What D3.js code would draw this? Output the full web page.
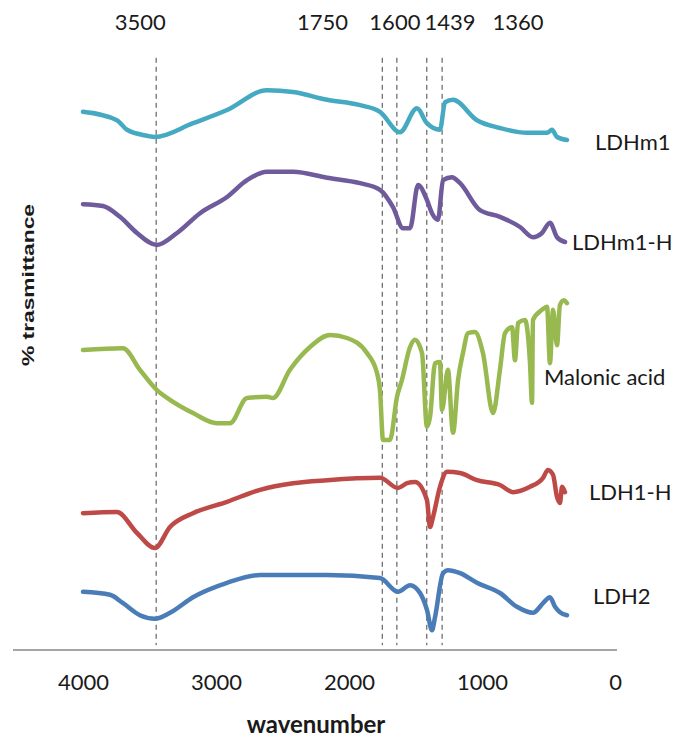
<!DOCTYPE html>
<html>
<head>
<meta charset="utf-8">
<script src="https://cdn.jsdelivr.net/npm/d3@7"></script>
<style>
  html, body { margin: 0; padding: 0; background: #fff; }
  #svg-container { width: 694px; height: 749px; }
  .lbl { font-family: Lato, "Open Sans", sans-serif; fill: #1a1a1a; }
</style>
</head>
<body>
<div id="svg-container"></div>
<script>
////////////////////////////  Data  ////////////////////////////////
// [wavenumber, % transmittance (offset per curve)]
const ldhm1 = [
  [4000, 89.7], [3745, 88.3], [3669, 86.7], [3519, 85.7], [3459, 85.5], [3173, 87.8],
  [2917, 90.0], [2617, 93.3], [2421, 93.0], [2165, 91.7], [1917, 90.8], [1767, 89.7],
  [1617, 86.3], [1489, 90.3], [1414, 87.8], [1316, 86.7], [1278, 91.3], [1218, 91.7],
  [1038, 88.3], [865, 87.0], [662, 86.2], [511, 86.2], [474, 86.7], [436, 85.5], [361, 85.0]
];
const ldhm1H = [
  [4000, 74.3], [3850, 74.0], [3722, 72.2], [3594, 69.5], [3444, 67.5], [3293, 69.5],
  [3120, 72.8], [2917, 75.5], [2767, 78.3], [2617, 79.7], [2421, 79.7], [2165, 78.7],
  [1917, 77.8], [1767, 76.7], [1669, 73.8], [1594, 70.3], [1541, 70.3], [1481, 77.5],
  [1414, 75.0], [1376, 72.8], [1331, 71.7], [1293, 78.3], [1226, 78.8], [1165, 77.8],
  [1015, 73.3], [865, 72.2], [714, 70.5], [617, 68.8], [549, 69.5], [489, 71.2],
  [436, 68.8], [376, 68.0]
];
const malonic = [
  [4000, 50.0], [3699, 50.3], [3572, 46.7], [3444, 43.3], [3346, 41.7], [3173, 39.5],
  [2993, 37.8], [2895, 37.8], [2767, 42.0], [2617, 42.2], [2572, 42.0], [2444, 46.7],
  [2293, 50.5], [2143, 52.5], [2015, 52.0], [1865, 49.5], [1790, 46.2], [1767, 43.3],
  [1744, 35.0], [1692, 35.0], [1639, 42.2], [1602, 45.0], [1541, 50.5], [1504, 51.7],
  [1451, 49.5], [1414, 37.2], [1391, 38.8], [1353, 47.8], [1316, 48.0], [1301, 40.0],
  [1256, 46.7], [1218, 36.2], [1180, 45.0], [1143, 49.5], [1105, 52.8], [1053, 53.0],
  [993, 49.5], [917, 39.5], [865, 46.7], [827, 52.8], [774, 53.8], [752, 48.3],
  [729, 54.5], [677, 55.0], [639, 47.8], [624, 41.2], [617, 55.0], [549, 56.7],
  [511, 57.2], [489, 47.8], [466, 56.7], [436, 50.8], [414, 57.5], [384, 58.3], [361, 57.8]
];
const ldh1H = [
  [4000, 22.8], [3745, 23.0], [3594, 19.5], [3459, 17.0], [3346, 20.5], [3173, 22.8],
  [2917, 24.7], [2669, 26.7], [2421, 27.8], [2165, 28.3], [1767, 28.7], [1632, 27.0],
  [1564, 27.8], [1504, 28.0], [1414, 25.0], [1391, 20.5], [1368, 22.2], [1316, 27.2],
  [1263, 29.7], [1165, 29.5], [1038, 28.3], [865, 27.5], [767, 26.3], [639, 27.2],
  [541, 28.7], [504, 30.0], [466, 29.2], [436, 25.5], [414, 24.5], [398, 27.2], [376, 26.3]
];
const ldh2 = [
  [4000, 9.7], [3797, 9.2], [3699, 7.8], [3572, 5.8], [3459, 5.2], [3346, 6.2],
  [3173, 8.8], [2917, 11.2], [2669, 12.5], [2421, 12.5], [2165, 12.5], [1767, 12.0],
  [1632, 9.7], [1541, 10.8], [1466, 9.5], [1414, 6.7], [1376, 3.3], [1353, 5.5],
  [1293, 12.8], [1256, 13.3], [1165, 12.8], [1038, 11.2], [865, 9.5], [737, 7.2],
  [617, 6.2], [541, 7.8], [489, 8.8], [451, 7.2], [414, 6.3], [361, 5.8]
];

const seriesNames = ["LDHm1", "LDHm1-H", "Malonic acid", "LDH1-H", "LDH2"];
const seriesData = [ldhm1, ldhm1H, malonic, ldh1H, ldh2];

// dashed marker lines and their top labels
const markerLines = [3450, 1750, 1640, 1415, 1300];
const peakLabels = ["3500", "1750", "1600", "1439", "1360"];
const peakLabelAt = [3570, 2200, 1655, 1240, 730];

const xTicks = [4000, 3000, 2000, 1000, 0];

////////////////////////////  Init  ////////////////////////////////
const width = 694;
const height = 749;

const svg = d3.select("#svg-container").append("svg")
  .attr("width", width).attr("height", height);

const xScale = d3.scaleLinear().domain([4000, 0]).range([83, 615]);
const yScale = d3.scaleLinear().domain([0, 100]).range([650, 50]);

const colorScale = d3.scaleOrdinal()
  .domain(seriesNames)
  .range(["#45a9c1", "#6f5a9c", "#98b94f", "#be4a48", "#4a7db8"]);

// label placement next to line ends
const labelPos = {
  "LDHm1": [595, 150],
  "LDHm1-H": [572, 250],
  "Malonic acid": [544, 385],
  "LDH1-H": [589, 500],
  "LDH2": [593, 604]
};

////////////////////////////  Axis  ////////////////////////////////
const xAxis = d3.axisBottom(xScale).tickValues(xTicks).tickSize(0).tickFormat(d3.format("d"));

const gx = svg.append("g")
  .attr("class", "x-axis")
  .attr("transform", `translate(0, ${yScale(0)})`)
  .call(xAxis);

gx.select(".domain")
  .attr("d", `M${13},0H${617}`)
  .attr("stroke", "#878787")
  .attr("stroke-width", 1.5);

gx.selectAll(".tick text")
  .attr("class", "lbl")
  .attr("y", 40)
  .attr("dy", 0)
  .style("font-size", "22px")
  .attr("fill", "#1a1a1a");

svg.append("text")
  .attr("class", "lbl")
  .attr("x", 316)
  .attr("y", 733)
  .attr("text-anchor", "middle")
  .style("font-size", "24px")
  .style("font-weight", "bold")
  .text("wavenumber");

svg.append("text")
  .attr("transform", "translate(34, 285) rotate(-90)")
  .attr("text-anchor", "middle")
  .attr("textLength", 162)
  .attr("lengthAdjust", "spacingAndGlyphs")
  .style("font-family", "'Liberation Sans', Arial, sans-serif")
  .style("font-size", "16px")
  .style("font-weight", "bold")
  .attr("fill", "#1a1a1a")
  .text("% trasmittance");

////////////////////////////  Marker lines  ////////////////////////
svg.selectAll(".marker")
  .data(markerLines)
  .enter()
  .append("line")
  .attr("class", "marker")
  .attr("x1", (d) => xScale(d))
  .attr("x2", (d) => xScale(d))
  .attr("y1", yScale(98.7))
  .attr("y2", yScale(0.8))
  .attr("stroke", "#444")
  .attr("stroke-width", 1)
  .attr("stroke-dasharray", "5,4");

svg.selectAll(".peak-label")
  .data(peakLabels)
  .enter()
  .append("text")
  .attr("class", "lbl peak-label")
  .attr("x", (d, i) => xScale(peakLabelAt[i]))
  .attr("y", 30)
  .attr("text-anchor", "middle")
  .style("font-size", "22px")
  .text((d) => d);

////////////////////////////  Spectra  /////////////////////////////
const line = d3.line()
  .x((d) => xScale(d[0]))
  .y((d) => yScale(d[1]))
  .curve(d3.curveMonotoneX);

svg.selectAll(".spectrum")
  .data(seriesNames)
  .enter()
  .append("path")
  .attr("class", "spectrum")
  .attr("d", (d, i) => line(seriesData[i]))
  .attr("fill", "none")
  .attr("stroke", (d) => colorScale(d))
  .attr("stroke-width", 4.5)
  .attr("stroke-linejoin", "round")
  .attr("stroke-linecap", "round");

svg.selectAll(".series-label")
  .data(seriesNames)
  .enter()
  .append("text")
  .attr("class", "lbl series-label")
  .attr("x", (d) => labelPos[d][0])
  .attr("y", (d) => labelPos[d][1])
  .style("font-size", "22px")
  .text((d) => d);
</script>
</body>
</html>
